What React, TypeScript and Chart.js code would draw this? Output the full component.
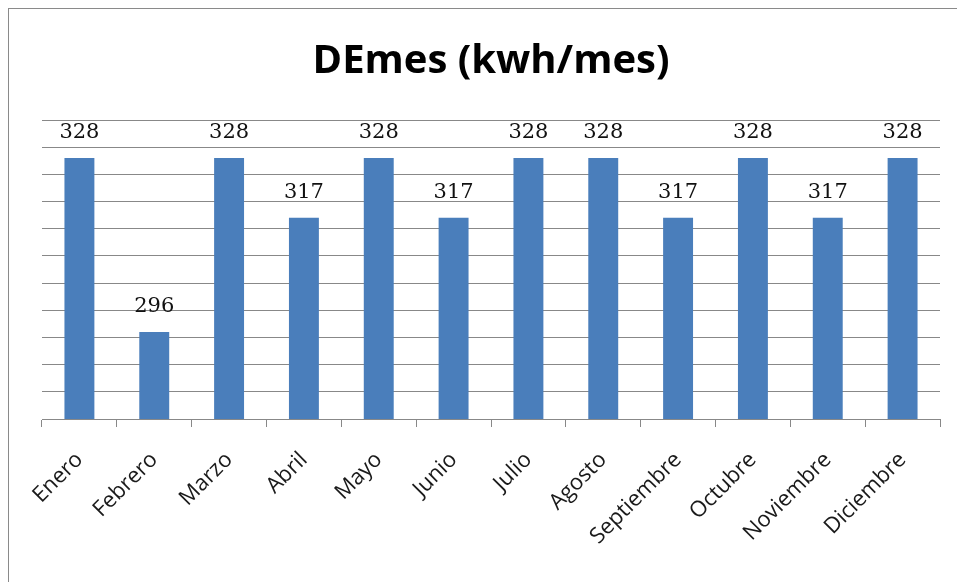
import React, { useEffect, useRef } from "react";
import { Chart, registerables } from "chart.js";

Chart.register(...registerables);

const categories = [
  "Enero", "Febrero", "Marzo", "Abril", "Mayo", "Junio",
  "Julio", "Agosto", "Septiembre", "Octubre", "Noviembre", "Diciembre",
];
const values = [328, 296, 328, 317, 328, 317, 328, 328, 317, 328, 317, 328];
const titleText = "DEmes (kwh/mes)";
const yMin = 280;
const yMax = 335;
const yStep = 5;

const valueLabels = {
  id: "valueLabels",
  afterDatasetsDraw(chart: any) {
    const ctx = chart.ctx;
    const meta = chart.getDatasetMeta(0);
    ctx.save();
    ctx.font = '21px "DejaVu Serif"';
    ctx.fillStyle = "#111";
    ctx.textAlign = "center";
    ctx.textBaseline = "alphabetic";
    meta.data.forEach((bar: any, i: number) => {
      ctx.fillText(String(values[i]), bar.x, bar.y - 20);
    });
    ctx.restore();
  },
};

export default function App() {
  const ref = useRef<HTMLCanvasElement | null>(null);
  useEffect(() => {
    if (!ref.current) return;
    const gridColor = "#888888";
    const chart = new Chart(ref.current, {
      type: "bar",
      data: {
        labels: categories,
        datasets: [
          {
            data: values,
            backgroundColor: "#4a7ebb",
            borderWidth: 0,
            barPercentage: 0.4,
            categoryPercentage: 1,
          },
        ],
      },
      options: {
        animation: false,
        responsive: false,
        devicePixelRatio: 1,
        layout: { padding: { left: 33, right: 17, top: 0, bottom: 0 } },
        plugins: {
          legend: { display: false },
          tooltip: { enabled: false },
          title: {
            display: true,
            text: titleText,
            color: "#000",
            font: { family: '"Open Sans"', size: 40, weight: "bold", lineHeight: 1.2 },
            padding: { top: 29, bottom: 34 },
          },
        },
        scales: {
          x: {
            grid: {
              display: true,
              drawOnChartArea: false,
              drawTicks: true,
              tickLength: 8,
              color: gridColor,
            },
            border: { display: true, color: gridColor },
            ticks: {
              minRotation: 45,
              maxRotation: 45,
              autoSkip: false,
              padding: 20,
              color: "#1a1a1a",
              font: { family: '"Open Sans"', size: 22 },
            },
            afterFit(scale: any) {
              scale.height = 163;
            },
          },
          y: {
            min: yMin,
            max: yMax,
            grid: { color: gridColor, drawTicks: false },
            border: { display: false },
            ticks: { display: false, stepSize: yStep },
          },
        },
      },
      plugins: [valueLabels],
    });
    return () => chart.destroy();
  }, []);
  return (
    <div
      style={{
        position: "fixed",
        top: 8,
        left: 8,
        width: 949,
        height: 574,
        borderTop: "1px solid #8a8a8a",
        borderLeft: "1px solid #8a8a8a",
        boxSizing: "border-box",
        overflow: "hidden",
        background: "#fff",
      }}
    >
      <canvas ref={ref} width={948} height={573} style={{ display: "block" }} />
    </div>
  );
}
